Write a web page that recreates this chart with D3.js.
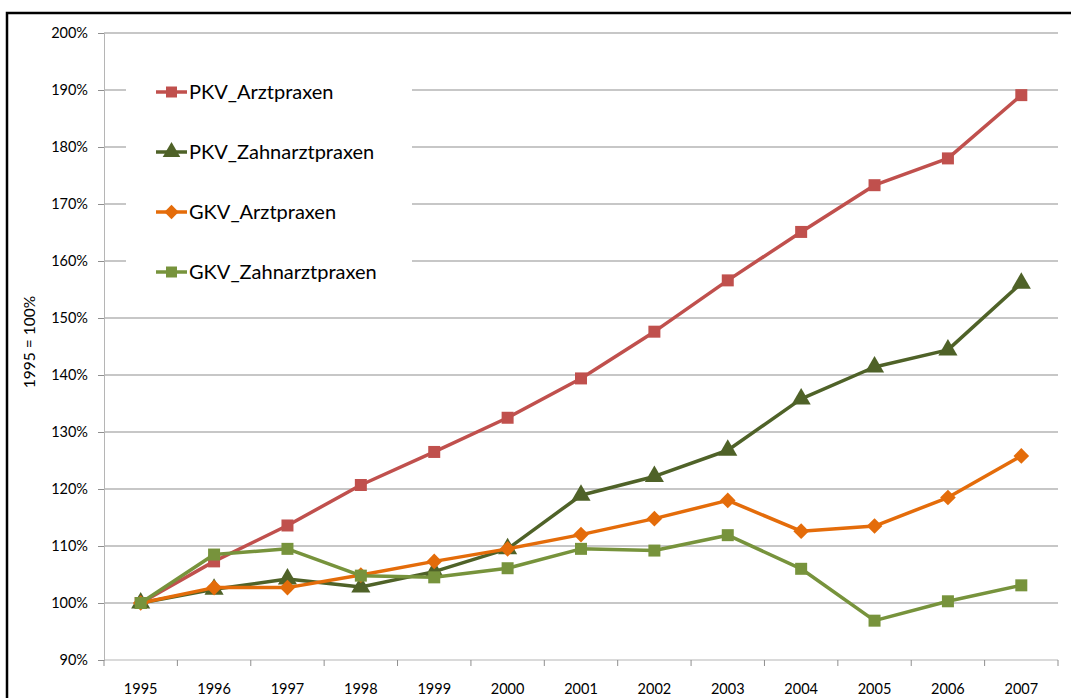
<!DOCTYPE html>
<html>
<head>
<meta charset="utf-8">
<script src="https://cdn.jsdelivr.net/npm/d3@7"></script>
<style>
  body { margin: 0; background: #fff; }
  text { font-family: Lato, "Open Sans", sans-serif; fill: #000; }
</style>
</head>
<body>
<script>
var years = ["1995", "1996", "1997", "1998", "1999", "2000", "2001", "2002", "2003", "2004", "2005", "2006", "2007"];
var pkvArzt = [100, 107.3, 113.6, 120.7, 126.5, 132.5, 139.4, 147.6, 156.6, 165.1, 173.3, 178.0, 189.1];
var pkvZahn = [100, 102.4, 104.2, 102.8, 105.5, 109.5, 118.9, 122.2, 126.8, 135.8, 141.4, 144.4, 156.1];
var gkvArzt = [100, 102.7, 102.7, 104.9, 107.3, 109.5, 112.0, 114.8, 118.0, 112.6, 113.5, 118.5, 125.8];
var gkvZahn = [100, 108.5, 109.5, 104.8, 104.5, 106.1, 109.5, 109.2, 111.9, 106.0, 96.9, 100.3, 103.1];
var yTicks = [90, 100, 110, 120, 130, 140, 150, 160, 170, 180, 190, 200];

var series = [
  { name: "PKV_Arztpraxen", values: pkvArzt, color: "#C0504D", marker: "square" },
  { name: "PKV_Zahnarztpraxen", values: pkvZahn, color: "#4F6228", marker: "triangle" },
  { name: "GKV_Arztpraxen", values: gkvArzt, color: "#E46C0A", marker: "diamond" },
  { name: "GKV_Zahnarztpraxen", values: gkvZahn, color: "#77933C", marker: "square" }
];

var width = 1071,
    height = 698;
var plotLeft = 104, plotRight = 1058, plotTop = 33, plotBottom = 660;

var svg = d3.select("body").append("svg")
    .attr("width", width)
    .attr("height", height);

var x = d3.scaleBand().domain(years).range([plotLeft, plotRight]).padding(0);
var y = d3.scaleLinear().domain([90, 200]).range([plotBottom, plotTop]);
var cx = function(d) { return x(d) + x.bandwidth() / 2; };

// gridlines
svg.append("g").selectAll("line")
    .data(yTicks.slice(1)).enter()
    .append("line")
    .attr("x1", plotLeft).attr("x2", plotRight)
    .attr("y1", function(d) { return y(d); })
    .attr("y2", function(d) { return y(d); })
    .attr("stroke", "#8f8f8f")
    .attr("stroke-width", 1);

// y axis
var yAxis = svg.append("g")
    .attr("transform", "translate(" + plotLeft + ",0)")
    .call(d3.axisLeft(y).tickValues(yTicks).tickFormat(function(d) { return d + "%"; }).tickSize(6).tickPadding(10));
yAxis.select(".domain").attr("stroke", "#b5b5b5");
yAxis.selectAll(".tick line").attr("stroke", "#8f8f8f");
yAxis.selectAll("text").style("font-size", "14.5px").style("font-family", "Lato, sans-serif");

// x axis
svg.append("line")
    .attr("x1", plotLeft).attr("x2", plotRight)
    .attr("y1", plotBottom).attr("y2", plotBottom)
    .attr("stroke", "#b5b5b5");
svg.append("g").selectAll("line")
    .data(years.concat(["end"])).enter()
    .append("line")
    .attr("x1", function(d, i) { return plotLeft + i * x.bandwidth(); })
    .attr("x2", function(d, i) { return plotLeft + i * x.bandwidth(); })
    .attr("y1", plotBottom).attr("y2", plotBottom + 6)
    .attr("stroke", "#8f8f8f");
svg.append("g").selectAll("text")
    .data(years).enter()
    .append("text")
    .attr("x", cx)
    .attr("y", 694)
    .attr("text-anchor", "middle")
    .style("font-size", "14.5px")
    .text(function(d) { return d; });

// y title
svg.append("text")
    .attr("transform", "translate(35,342) rotate(-90)")
    .attr("text-anchor", "middle")
    .style("font-size", "15.5px")
    .text("1995 = 100%");

// Excel style diamond: a square turned by 45 degrees
var wideDiamond = {
  draw: function(ctx, size) {
    var r = Math.sqrt(size / 2);
    ctx.moveTo(0, -r);
    ctx.lineTo(r, 0);
    ctx.lineTo(0, r);
    ctx.lineTo(-r, 0);
    ctx.closePath();
  }
};

var symbolFor = function(m, size) {
  if (m == "square") return d3.symbol().type(d3.symbolSquare).size(size)();
  if (m == "triangle") return d3.symbol().type(d3.symbolTriangle).size(size * 1.1)();
  return d3.symbol().type(wideDiamond).size(size * 0.85)();
};

var line = d3.line()
    .x(function(d, i) { return cx(years[i]); })
    .y(function(d) { return y(d); });

series.forEach(function(s) {
  svg.append("path")
      .datum(s.values)
      .attr("fill", "none")
      .attr("stroke", s.color)
      .attr("stroke-width", 3.5)
      .attr("stroke-linejoin", "round")
      .attr("d", line);

  svg.append("g").selectAll("path")
      .data(s.values).enter()
      .append("path")
      .attr("transform", function(d, i) { return "translate(" + cx(years[i]) + "," + y(d) + ")"; })
      .attr("d", symbolFor(s.marker, 144))
      .attr("fill", s.color);
});

// legend
var legend = svg.append("g");
legend.append("rect")
    .attr("x", 126).attr("y", 55)
    .attr("width", 286).attr("height", 245)
    .attr("fill", "#fff");
var item = legend.selectAll("g")
    .data(series).enter()
    .append("g")
    .attr("transform", function(d, i) { return "translate(0," + (92 + i * 60) + ")"; });
item.append("line")
    .attr("x1", 156).attr("x2", 187)
    .attr("stroke", function(d) { return d.color; })
    .attr("stroke-width", 3.5);
item.append("path")
    .attr("transform", "translate(171.5,0)")
    .attr("d", function(d) { return symbolFor(d.marker, 121); })
    .attr("fill", function(d) { return d.color; });
item.append("text")
    .attr("x", 189)
    .attr("y", 7)
    .style("font-size", "20px")
    .text(function(d) { return d.name; });

// frame
svg.append("path")
    .attr("d", "M7," + height + "V13H" + width)
    .attr("fill", "none")
    .attr("stroke", "#000")
    .attr("stroke-width", 2.5);
</script>
</body>
</html>
